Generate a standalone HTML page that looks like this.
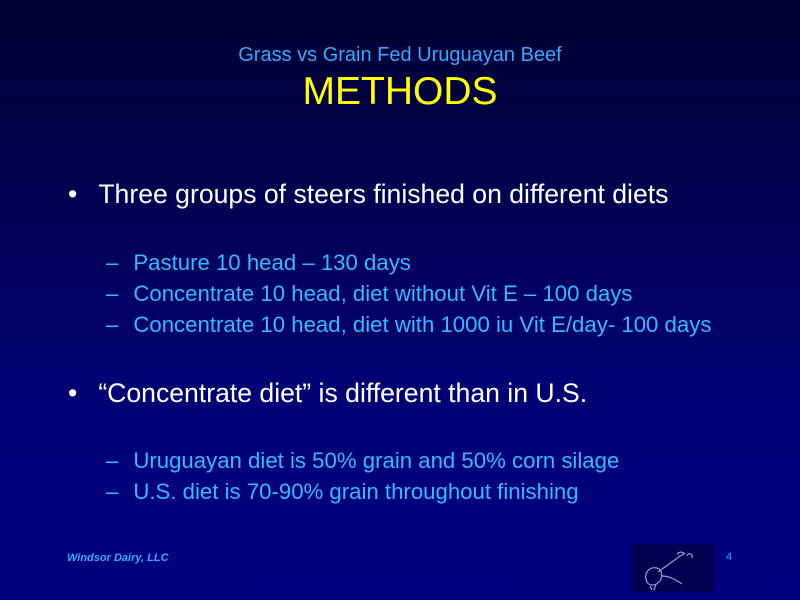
<!DOCTYPE html>
<html><head><meta charset="utf-8"><style>
body{margin:0;width:800px;height:600px;overflow:hidden;background:linear-gradient(#000030,#000078 70%,#00007e);font-family:"Liberation Sans",sans-serif;position:relative}
div{position:absolute;white-space:nowrap}
.sub{left:0;width:800px;text-align:center;top:44px;font-size:20px;color:#33aaff}
.title{left:0;width:800px;text-align:center;top:70px;font-size:39px;color:#ffff00}
.b{color:#fff;font-size:26.6px;left:68px}
.d{color:#33bbff;font-size:22.2px;left:106px}
</style></head><body>
<div class="sub">Grass vs Grain Fed Uruguayan Beef</div>
<div class="title">METHODS</div>
<div class="b" style="top:179px">•<span style="margin-left:21px">Three groups of steers finished on different diets</span></div>
<div class="d" style="top:250px">–<span style="margin-left:15px">Pasture 10 head – 130 days</span></div>
<div class="d" style="top:281px">–<span style="margin-left:15px">Concentrate 10 head, diet without Vit E – 100 days</span></div>
<div class="d" style="top:312px">–<span style="margin-left:15px">Concentrate 10 head, diet with 1000 iu Vit E/day- 100 days</span></div>
<div class="b" style="top:378px">•<span style="margin-left:21px">“Concentrate diet” is different than in U.S.</span></div>
<div class="d" style="top:448px">–<span style="margin-left:15px">Uruguayan diet is 50% grain and 50% corn silage</span></div>
<div class="d" style="top:479px">–<span style="margin-left:15px">U.S. diet is 70-90% grain throughout finishing</span></div>
<div style="left:67px;top:552px;font-size:11px;font-weight:bold;font-style:italic;color:#33aaff">Windsor Dairy, LLC</div>
<div style="left:632px;top:544px;width:82px;height:48px;background:#000050">
<svg width="82" height="48" viewBox="0 0 82 48"><g fill="none" stroke="#9a9ae0" stroke-width="1.2"><path d="M15 38c-4-8 2-16 10-14 6 2 6 10 2 14-4 4-10 4-12 0z"/><path d="M26 28l22-16 4-2M30 32c8 0 14 4 20 8M45 10c3-3 6-2 8 0M55 12c2-4 6-2 5 2"/><path d="M18 42l2 4M24 40l-2 6"/></g></svg></div>
<div style="left:726px;top:551px;font-size:11px;color:#33aaff">4</div>
</body></html>
